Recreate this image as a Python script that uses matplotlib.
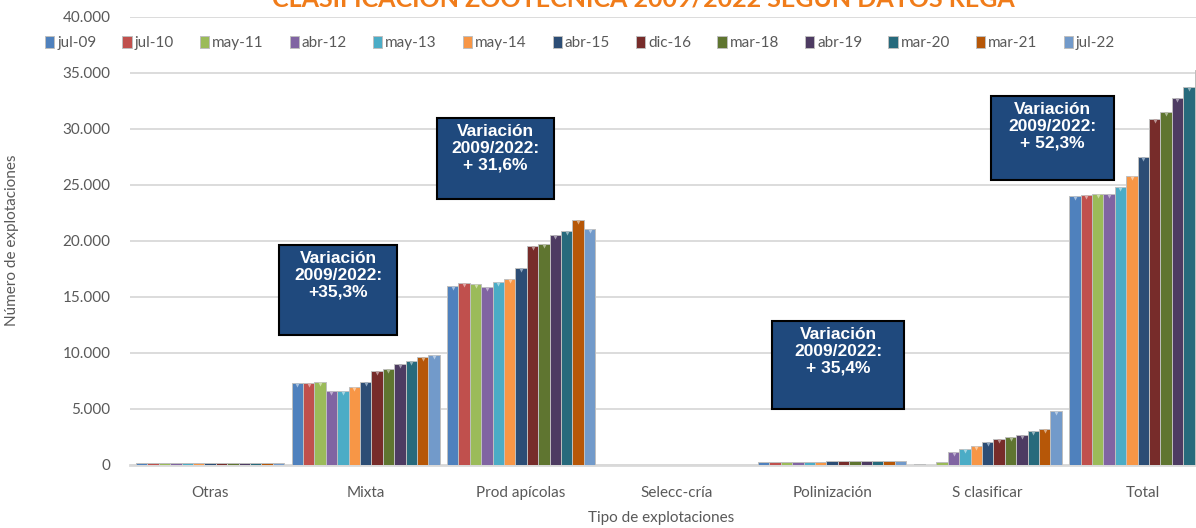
import matplotlib
matplotlib.use("Agg")
import matplotlib.pyplot as plt
from matplotlib.patches import Patch, Rectangle
from matplotlib.ticker import FuncFormatter
import numpy as np

# Clasificacion zootecnica 2009/2022 segun datos REGA
categories = ['Otras', 'Mixta', 'Prod apícolas', 'Selecc-cría', 'Polinización', 'S clasificar', 'Total']
periods = ['jul-09', 'jul-10', 'may-11', 'abr-12', 'may-13', 'may-14', 'abr-15',
           'dic-16', 'mar-18', 'abr-19', 'mar-20', 'mar-21', 'jul-22']

jul09 = [200, 7290, 15980, 30, 260, 50, 24000]
jul10 = [200, 7290, 16220, 0, 270, 40, 24080]
may11 = [200, 7380, 16130, 0, 280, 300, 24200]
abr12 = [200, 6640, 15920, 0, 290, 1130, 24200]
may13 = [200, 6640, 16310, 0, 300, 1400, 24850]
may14 = [200, 6990, 16640, 0, 310, 1730, 25830]
abr15 = [200, 7440, 17620, 0, 320, 2030, 27530]
dic16 = [200, 8420, 19550, 0, 330, 2350, 30890]
mar18 = [200, 8570, 19760, 0, 335, 2530, 31550]
abr19 = [200, 9050, 20500, 0, 340, 2710, 32800]
mar20 = [200, 9320, 20900, 30, 345, 3000, 33780]
mar21 = [200, 9610, 21900, 40, 350, 3180, 35300]
jul22 = [200, 9860, 21060, 30, 352, 4820, 36550]
series = [jul09, jul10, may11, abr12, may13, may14, abr15, dic16, mar18, abr19, mar20, mar21, jul22]

colors = ['#4F81BD', '#C0504D', '#9BBB59', '#8064A2', '#4BACC6', '#F79646', '#2C4D75',
          '#772C2A', '#5F7530', '#4D3B62', '#276A7C', '#B65708', '#729ACA']
tops = ['#A7C0DE', '#E0A8A6', '#CDDDAC', '#BFB1D0', '#A5D5E2', '#FBCAA2', '#8FA6C0',
        '#BB9594', '#AFBA97', '#A69DB0', '#93B4BD', '#DAAB83', '#B8CCE4']

# annotation boxes: text and pixel box (x0, y0, x1, y1) from top-left
notes = ['Variación\n2009/2022:\n+35,3%', 'Variación\n2009/2022:\n+ 31,6%',
         'Variación\n2009/2022:\n+ 35,4%', 'Variación\n2009/2022:\n+ 52,3%']
note_boxes = [(279, 245, 397, 335), (437, 118, 554, 199), (772, 321, 904, 409), (991, 96, 1114, 180)]

W, H = 1196, 528
fig = plt.figure(figsize=(W / 100, H / 100), dpi=100)
plt.rcParams['font.family'] = ['Lato', 'DejaVu Sans']
grey = '#595959'

ax = fig.add_axes([130 / W, 63 / H, 1091 / W, 448 / H])
x = np.arange(len(categories))
w = 0.0733
for j, (vals, c, tc) in enumerate(zip(series, colors, tops)):
    pos = x + (j - 6) * w
    ax.bar(pos, vals, width=w, color=c, edgecolor='#BFBFBF', linewidth=0.7, zorder=3)
    vals = np.array(vals)
    m = vals > 500
    ax.scatter(pos[m], vals[m] - 180, marker='v', s=9, color=tc, linewidths=0, zorder=4)

ax.set_xlim(-0.515, 6.5)
ax.set_ylim(0, 40000)
ax.set_yticks(np.arange(0, 40001, 5000))
ax.yaxis.set_major_formatter(FuncFormatter(lambda v, p: f"{int(v):,}".replace(',', '.')))
ax.set_xticks(x)
ax.set_xticklabels(categories)
ax.tick_params(axis='y', length=0, pad=14, labelsize=11, labelcolor=grey)
ax.tick_params(axis='x', length=0, pad=15, labelsize=11, labelcolor=grey)
ax.grid(axis='y', color='#D9D9D9', linewidth=1.3, zorder=0)
for s in ['top', 'right', 'left']:
    ax.spines[s].set_visible(False)
ax.spines['bottom'].set_color('#D9D9D9')
ax.spines['bottom'].set_linewidth(2)

fig.text(661 / W, 1 - 518 / H, 'Tipo de explotaciones', ha='center', va='center', fontsize=11, color=grey)
fig.text(12 / W, 1 - 240 / H, 'Número de explotaciones', ha='center', va='center',
         rotation=90, fontsize=11, color=grey)
fig.text(643 / W, 1 - 8 / H, 'CLASIFICACIÓN ZOOTÉCNICA 2009/2022 SEGÚN DATOS REGA',
         ha='center', va='baseline', fontsize=18, fontweight='bold', color='#F07C1A')

handles = [Patch(facecolor=c, edgecolor='#BFBFBF', linewidth=0.7) for c in colors]
fig.legend(handles, periods, loc='center', bbox_to_anchor=(580 / W, 1 - 43 / H), ncol=13,
           frameon=False, handlelength=0.6, handleheight=0.9, handletextpad=0.2,
           columnspacing=1.7, fontsize=11, labelcolor=grey)

for txt, (x0, y0, x1, y1) in zip(notes, note_boxes):
    fig.patches.append(Rectangle((x0 / W, 1 - y1 / H), (x1 - x0) / W, (y1 - y0) / H,
                                 transform=fig.transFigure, facecolor='#1F497D',
                                 edgecolor='black', linewidth=1.5, zorder=5))
    fig.text((x0 + x1) / 2 / W, 1 - (y0 + 6) / H, txt, ha='center', va='top',
             fontsize=12.5, fontweight='bold', color='white', family='Liberation Sans',
             linespacing=1.15, zorder=6)

fig.savefig('out.png', dpi=100)
